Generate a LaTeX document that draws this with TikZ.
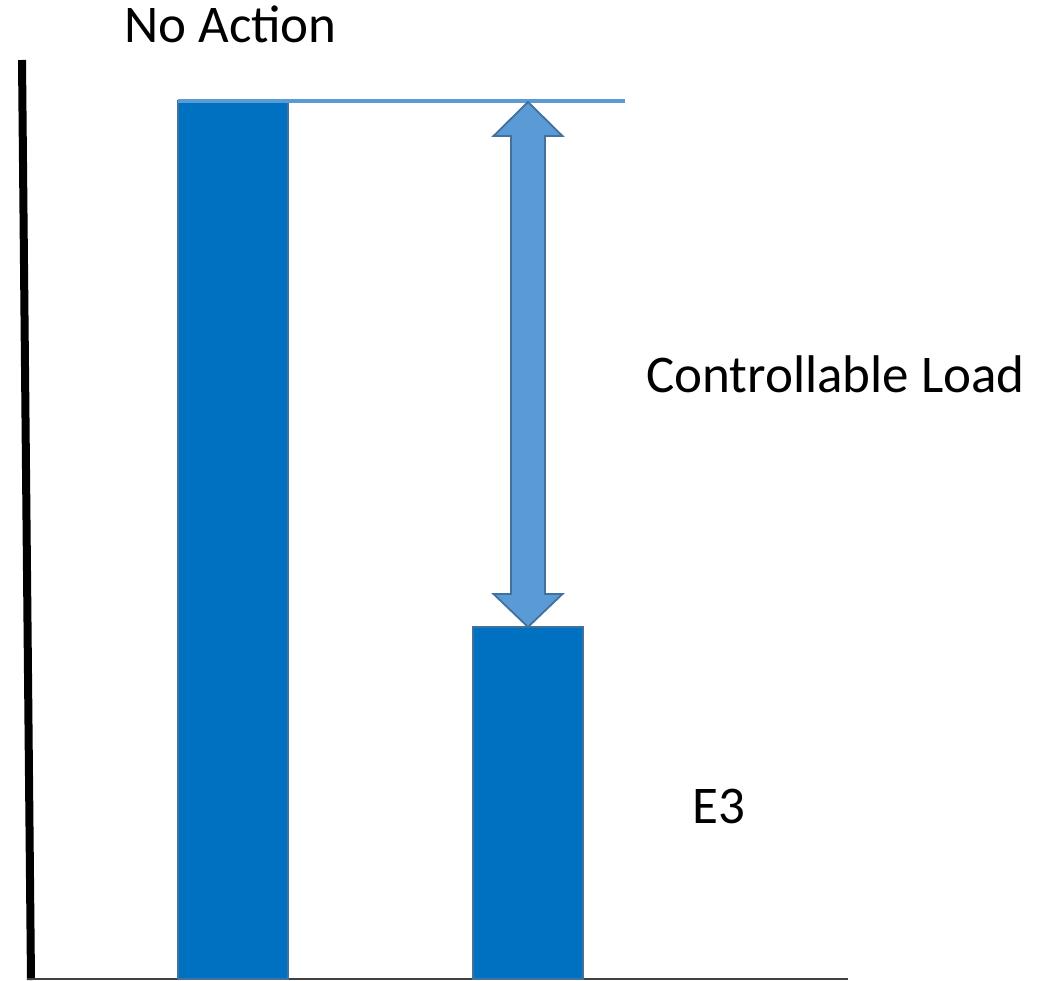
\documentclass[tikz,border=0pt]{standalone}
\usepackage{fontspec}
\setmainfont{Carlito}
\usetikzlibrary{calc}
\definecolor{barblue}{HTML}{0070C0}
\definecolor{baredge}{HTML}{41719C}
\definecolor{lightblue}{HTML}{5B9BD5}
\tikzset{
  bar/.style={draw=baredge, line width=2pt, fill=barblue, inner sep=0pt, outer sep=0pt, anchor=north west},
  label/.style={anchor=base west, inner sep=0pt, font=\fontsize{53}{60}\selectfont},
  blockarrow/.style={fill=lightblue, draw=baredge, line width=1.8pt, line join=miter}
}
\begin{document}
\begin{tikzpicture}[x=1pt,y=-1pt]
\useasboundingbox (0,0) rectangle (1048,981);
% axes
\coordinate (ytop) at (22,60);
\coordinate (origin) at (31,980);
\coordinate (xend) at (848,979);
\draw[line width=8pt] (ytop) -- (origin);
\draw[line width=2.2pt, draw=black!75] (27,979) -- (xend);
% bars
\node[bar, minimum width=110pt, minimum height=878pt] (b1) at (178,101) {};
\node[bar, minimum width=110pt, minimum height=352pt] (b2) at (473,627) {};
% top reference line
\coordinate (lineend) at (625,101);
\draw[lightblue, line width=4pt] (b1.north west) -- (lineend);
% double block arrow
\coordinate (top) at (528,102);
\coordinate (bot) at (b2.north);
\draw[blockarrow]
  (top) -- ($(top)+(34.5,34)$) -- ($(top)+(17,34)$) -- ($(bot)+(17,-33)$)
  -- ($(bot)+(34.5,-33)$) -- (bot) -- ($(bot)+(-34.5,-33)$) -- ($(bot)+(-17,-33)$)
  -- ($(top)+(-17,34)$) -- ($(top)+(-34.5,34)$) -- cycle;
% labels
\node[label] (na) at (124,43) {No Action};
\node[label] (cl) at (646,392) {Controllable Load};
\node[label] (e3) at (692,823) {E3};
\end{tikzpicture}
\end{document}
